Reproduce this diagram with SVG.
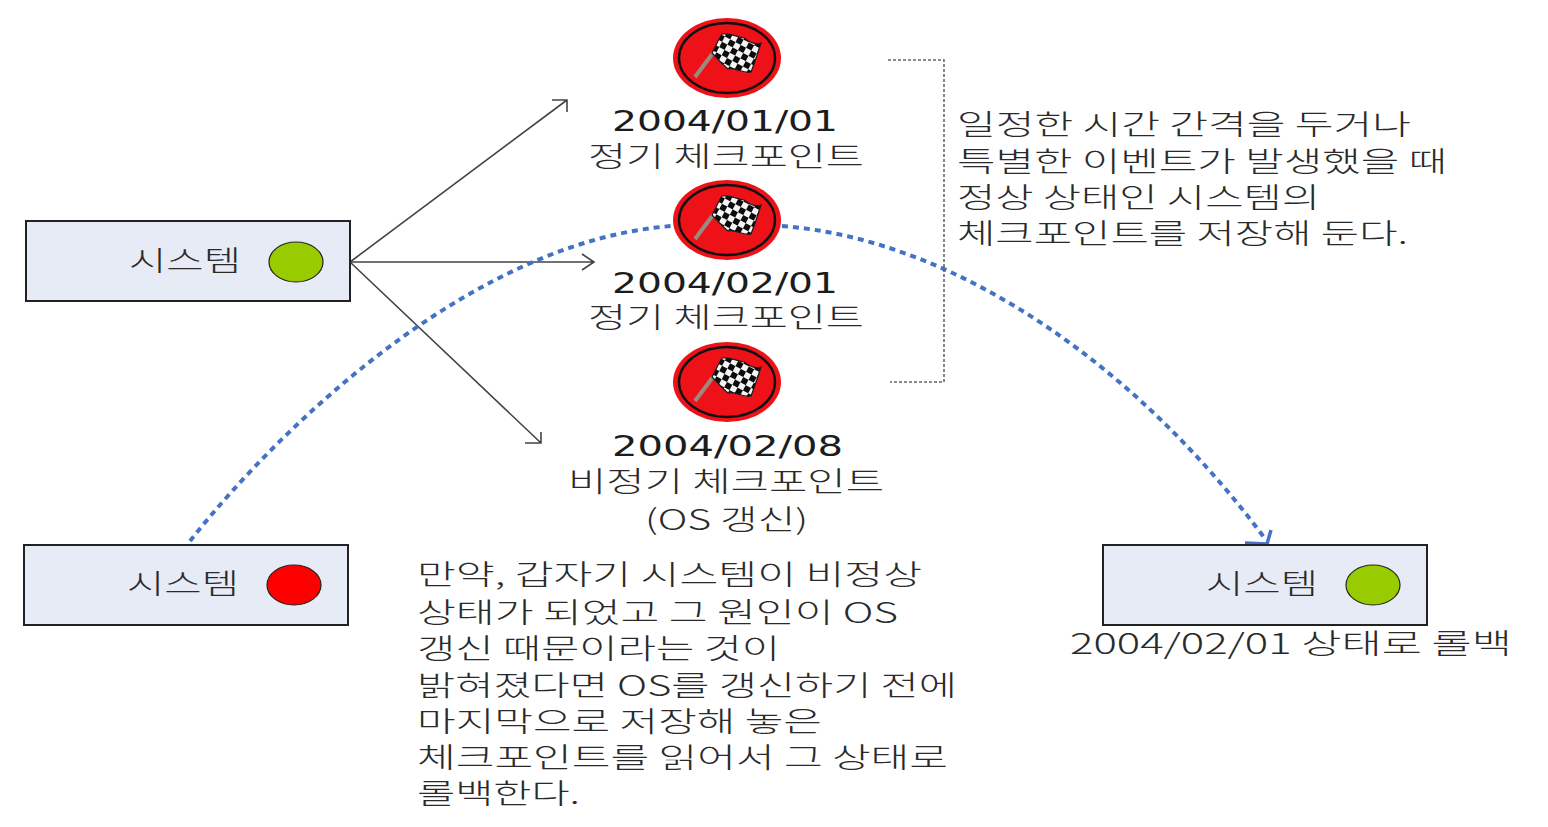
<svg xmlns="http://www.w3.org/2000/svg" width="1548" height="827" viewBox="0 0 1548 827">
<style>
text{font-family:"DejaVu Sans","Noto Sans CJK KR",sans-serif;fill:#1c1c1c;font-size:28px}
.k{font-family:"Noto Sans CJK KR","DejaVu Sans",sans-serif;fill:#2a2a2a;font-weight:300}
.box{fill:#e7ebf5;stroke:#222;stroke-width:2}
.arrow{fill:none;stroke:#444;stroke-width:1.6}
.blue{fill:none;stroke:#4472c4;stroke-width:4;stroke-dasharray:6 5}
.br{fill:none;stroke:#666;stroke-width:1.6;stroke-dasharray:3 2}
</style>
<defs>
<pattern id="chk" width="12" height="12" patternUnits="userSpaceOnUse" patternTransform="rotate(28)">
<rect width="12" height="12" fill="#f4f4f4"/><rect width="6" height="6" fill="#0c0c0c"/><rect x="6" y="6" width="6" height="6" fill="#0c0c0c"/>
</pattern>
<g id="flag">
<ellipse cx="0" cy="0" rx="54" ry="40" fill="#ee1118"/>
<ellipse cx="0" cy="0" rx="48" ry="35" fill="#ee1118" stroke="#111" stroke-width="2.4"/>
<path d="M-32 19L-14 -5" stroke="#9a8a7e" stroke-width="4" fill="none"/>
<path d="M-15 -5C-11 -12 -9 -18 -5 -24C3 -25 10 -21 17 -20C22 -16 28 -13 34 -15C31 -6 28 4 24 14C16 16 9 9 1 11C-5 6 -10 0 -15 -5Z" fill="url(#chk)" stroke="#1a1a1a" stroke-width="1.2"/>
</g>
</defs>

<g id="connectors">
<path class="arrow" d="M350 262L567 100M552 100H567V112"/>
<path class="arrow" d="M350 262H594M582 254L594 262L582 270"/>
<path class="arrow" d="M350 262L541 443M525 443H541V432"/>
<path class="blue" d="M190 541C290 415 480 240 672 226"/>
<path class="blue" d="M782 226C960 240 1140 370 1266 540"/>
<path d="M1245 543L1267 544L1271 530" fill="none" stroke="#4472c4" stroke-width="3.5"/>
<path class="br" d="M888 60H944V382H890"/>
</g>

<g id="cp1"><use href="#flag" x="727" y="58"/>
<text x="612" y="131" textLength="226" lengthAdjust="spacingAndGlyphs">2004/01/01</text>
<text class="k" x="588" y="167" textLength="276" lengthAdjust="spacingAndGlyphs">정기 체크포인트</text></g>
<g id="cp2"><use href="#flag" x="727" y="220"/>
<text x="612" y="293" textLength="226" lengthAdjust="spacingAndGlyphs">2004/02/01</text>
<text class="k" x="588" y="328" textLength="276" lengthAdjust="spacingAndGlyphs">정기 체크포인트</text></g>
<g id="cp3"><use href="#flag" x="727" y="382"/>
<text x="612" y="456" textLength="231" lengthAdjust="spacingAndGlyphs">2004/02/08</text>
<text class="k" x="568" y="492" textLength="316" lengthAdjust="spacingAndGlyphs">비정기 체크포인트</text>
<text class="k" x="645" y="530" textLength="163" lengthAdjust="spacingAndGlyphs">(OS 갱신)</text></g>

<g id="sys1"><rect class="box" x="26" y="221" width="324" height="80"/>
<text class="k" x="129" y="271" textLength="112" lengthAdjust="spacingAndGlyphs">시스템</text>
<ellipse cx="296" cy="262" rx="27" ry="20" fill="#99cc00" stroke="#222" stroke-width="1.2"/></g>
<g id="sys2"><rect class="box" x="24" y="545" width="324" height="80"/>
<text class="k" x="127" y="594" textLength="112" lengthAdjust="spacingAndGlyphs">시스템</text>
<ellipse cx="294" cy="585" rx="27" ry="20" fill="#ff0000" stroke="#222" stroke-width="1.2"/></g>
<g id="sys3"><rect class="box" x="1103" y="545" width="324" height="80"/>
<text class="k" x="1206" y="594" textLength="112" lengthAdjust="spacingAndGlyphs">시스템</text>
<ellipse cx="1373" cy="585" rx="27" ry="20" fill="#99cc00" stroke="#222" stroke-width="1.2"/>
<text class="k" x="1070" y="654" textLength="442" lengthAdjust="spacingAndGlyphs">2004/02/01 상태로 롤백</text></g>

<g id="note1">
<text class="k" x="957" y="135" textLength="454" lengthAdjust="spacingAndGlyphs">일정한 시간 간격을 두거나</text>
<text class="k" x="957" y="172" textLength="490" lengthAdjust="spacingAndGlyphs">특별한 이벤트가 발생했을 때</text>
<text class="k" x="957" y="208" textLength="363" lengthAdjust="spacingAndGlyphs">정상 상태인 시스템의</text>
<text class="k" x="957" y="244" textLength="451" lengthAdjust="spacingAndGlyphs">체크포인트를 저장해 둔다.</text>
</g>
<g id="note2">
<text class="k" x="417" y="585" textLength="505" lengthAdjust="spacingAndGlyphs">만약, 갑자기 시스템이 비정상</text>
<text class="k" x="417" y="623" textLength="481" lengthAdjust="spacingAndGlyphs">상태가 되었고 그 원인이 OS</text>
<text class="k" x="417" y="659" textLength="363" lengthAdjust="spacingAndGlyphs">갱신 때문이라는 것이</text>
<text class="k" x="417" y="696" textLength="540" lengthAdjust="spacingAndGlyphs">밝혀졌다면 OS를 갱신하기 전에</text>
<text class="k" x="417" y="732" textLength="405" lengthAdjust="spacingAndGlyphs">마지막으로 저장해 놓은</text>
<text class="k" x="417" y="768" textLength="531" lengthAdjust="spacingAndGlyphs">체크포인트를 읽어서 그 상태로</text>
<text class="k" x="417" y="804" textLength="163" lengthAdjust="spacingAndGlyphs">롤백한다.</text>
</g>
</svg>
